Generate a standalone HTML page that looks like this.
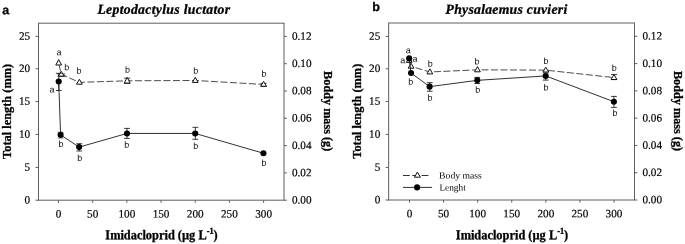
<!DOCTYPE html>
<html><head><meta charset="utf-8"><title>Figure</title>
<style>
html,body{margin:0;padding:0;background:#fff}
svg{display:block}
.t{font-family:"Liberation Serif",serif;font-size:11.2px;fill:#000;stroke:#000;stroke-width:0.18px}
.s{font-family:"Liberation Sans",sans-serif;font-size:9px;fill:#111}
.ti{font-family:"Liberation Serif",serif;font-size:13.7px;font-weight:bold;font-style:italic;fill:#000;stroke:#000;stroke-width:0.3px}
.al{font-family:"Liberation Serif",serif;font-size:13.4px;font-weight:bold;fill:#000;stroke:#000;stroke-width:0.3px}
.pl{font-family:"Liberation Sans",sans-serif;font-size:12.5px;font-weight:bold;fill:#000;stroke:#000;stroke-width:0.25px}
.lg{font-family:"Liberation Serif",serif;font-size:9.3px;fill:#000}
</style></head><body>
<svg width="685" height="244" viewBox="0 0 685 244">
<rect width="685" height="244" fill="#fff"/>
<path d="M38 23.2H284.5M38 200.2H284.5M38.5 23.2V200.2M284 23.2V200.2" stroke="#5e5e5e" stroke-width="1" fill="none"/>
<text transform="translate(30.15 203.5) rotate(0.05)" class="t" text-anchor="end">0</text>
<text transform="translate(30.15 170.72) rotate(0.05)" class="t" text-anchor="end">5</text>
<text transform="translate(30.15 137.75) rotate(0.05)" class="t" text-anchor="end">10</text>
<text transform="translate(30.15 104.75) rotate(0.05)" class="t" text-anchor="end">15</text>
<text transform="translate(30.15 72.1) rotate(0.05)" class="t" text-anchor="end">20</text>
<text transform="translate(30.15 39.7) rotate(0.05)" class="t" text-anchor="end">25</text>
<text transform="translate(291.95 203.5) rotate(0.05)" class="t">0.00</text>
<text transform="translate(291.95 176.2) rotate(0.05)" class="t">0.02</text>
<text transform="translate(291.95 148.9) rotate(0.05)" class="t">0.04</text>
<text transform="translate(291.95 121.6) rotate(0.05)" class="t">0.06</text>
<text transform="translate(291.95 94.3) rotate(0.05)" class="t">0.08</text>
<text transform="translate(291.95 67) rotate(0.05)" class="t">0.10</text>
<text transform="translate(291.95 39.7) rotate(0.05)" class="t">0.12</text>
<text transform="translate(58.5 217.5) rotate(0.05)" class="t" text-anchor="middle">0</text>
<text transform="translate(92.68 217.5) rotate(0.05)" class="t" text-anchor="middle">50</text>
<text transform="translate(126.86 217.5) rotate(0.05)" class="t" text-anchor="middle">100</text>
<text transform="translate(161.04 217.5) rotate(0.05)" class="t" text-anchor="middle">150</text>
<text transform="translate(195.22 217.5) rotate(0.05)" class="t" text-anchor="middle">200</text>
<text transform="translate(229.4 217.5) rotate(0.05)" class="t" text-anchor="middle">250</text>
<text transform="translate(263.58 217.5) rotate(0.05)" class="t" text-anchor="middle">300</text>
<path d="M35.5 200.2H38.5M35.5 167.42H38.5M35.5 134.45H38.5M35.5 101.45H38.5M35.5 68.8H38.5M35.5 36.4H38.5M284 200.2H286.9M284 172.9H286.9M284 145.6H286.9M284 118.3H286.9M284 91H286.9M284 63.7H286.9M284 36.4H286.9M58.5 200.2V202.8M92.68 200.2V202.8M126.86 200.2V202.8M161.04 200.2V202.8M195.22 200.2V202.8M229.4 200.2V202.8M263.58 200.2V202.8" stroke="#5e5e5e" stroke-width="1" fill="none"/>
<text transform="translate(97.4 13.7) rotate(0.05)" class="ti" textLength="132.7" lengthAdjust="spacing">Leptodactylus luctator</text>
<text transform="translate(2.2 14.2) rotate(0.05)" class="pl">a</text>
<text transform="translate(10.95 111.4) rotate(-90)" class="al" text-anchor="middle" textLength="95" lengthAdjust="spacingAndGlyphs">Total length (mm)</text>
<text transform="translate(324.4 111.2) rotate(90)" class="al" text-anchor="middle" textLength="80.2" lengthAdjust="spacingAndGlyphs">Boddy mass (g)</text>
<text transform="translate(161.5 239.2) rotate(0.05)" class="al" text-anchor="middle" textLength="112.4" lengthAdjust="spacingAndGlyphs">Imidacloprid (µg L<tspan dy="-5.6" font-size="9">-1</tspan><tspan dy="5.6">)</tspan></text>
<polyline points="58.7,62.9 61.2,74.3 79.4,82.35 127.2,80.8 195.25,80.48 263.6,84.45" fill="none" stroke="#222" stroke-width="0.82" stroke-dasharray="6.97 2.54" stroke-dashoffset="7.95"/>
<path d="M127.2 78.2V83.3M124.1 78.2H130.3M124.1 83.3H130.3" fill="none" stroke="#1a1a1a" stroke-width="0.85"/>
<path d="M61.4 74V76.2M57.5 74H65.3M57.5 76.2H65.3" fill="none" stroke="#1a1a1a" stroke-width="0.85"/>
<path d="M263.6 83.4V86.4M260.6 83.4H266.6M260.6 86.4H266.6" fill="none" stroke="#1a1a1a" stroke-width="0.85"/>
<path d="M58.7 59.6L61.6 65L55.8 65Z" fill="#fff" stroke="#111" stroke-width="1.0" stroke-linejoin="miter"/>
<path d="M61.2 71.3L64.1 76.1L58.3 76.1Z" fill="#fff" stroke="#111" stroke-width="1.0" stroke-linejoin="miter"/>
<path d="M79.4 79.3L82.3 84.2L76.5 84.2Z" fill="#fff" stroke="#111" stroke-width="1.0" stroke-linejoin="miter"/>
<path d="M127.2 77.3L130.1 83.1L124.3 83.1Z" fill="#fff" stroke="#111" stroke-width="1.0" stroke-linejoin="miter"/>
<path d="M195.25 77.3L198.15 82.45L192.35 82.45Z" fill="#fff" stroke="#111" stroke-width="1.0" stroke-linejoin="miter"/>
<path d="M263.6 81.4L266.5 86.3L260.7 86.3Z" fill="#fff" stroke="#111" stroke-width="1.0" stroke-linejoin="miter"/>
<polyline points="58.7,81.5 60.6,134.9 79.15,147.1 127,133.45 195.2,133.45 263.45,153.25" fill="none" stroke="#1a1a1a" stroke-width="0.9"/>
<path d="M58.8 73.3V90.5M55.9 73.3H61.7M55.9 90.5H61.7" fill="none" stroke="#1a1a1a" stroke-width="0.85"/>
<path d="M60.6 132.2V138.25M57.7 132.2H63.5M57.7 138.25H63.5" fill="none" stroke="#555" stroke-width="0.6"/>
<path d="M79.25 143.7V151M76.35 143.7H82.15M76.35 151H82.15" fill="none" stroke="#1a1a1a" stroke-width="0.85"/>
<path d="M127 128.4V138.4M124.1 128.4H129.9M124.1 138.4H129.9" fill="none" stroke="#1a1a1a" stroke-width="0.85"/>
<path d="M195.35 127.3V139.3M192.45 127.3H198.25M192.45 139.3H198.25" fill="none" stroke="#1a1a1a" stroke-width="0.85"/>
<circle cx="58.7" cy="81.5" r="3.05" fill="#000"/>
<circle cx="60.6" cy="134.9" r="3.05" fill="#000"/>
<circle cx="79.15" cy="147.1" r="3.05" fill="#000"/>
<circle cx="127" cy="133.45" r="3.05" fill="#000"/>
<circle cx="195.2" cy="133.45" r="3.05" fill="#000"/>
<circle cx="263.45" cy="153.25" r="3.05" fill="#000"/>
<text transform="translate(58.95 55.2) rotate(0.05)" class="s" text-anchor="middle">a</text>
<text transform="translate(66.8 70.15) rotate(0.05)" class="s" text-anchor="middle">b</text>
<text transform="translate(79.1 73.7) rotate(0.05)" class="s" text-anchor="middle">b</text>
<text transform="translate(127.6 72.85) rotate(0.05)" class="s" text-anchor="middle">b</text>
<text transform="translate(195.75 73.7) rotate(0.05)" class="s" text-anchor="middle">b</text>
<text transform="translate(263.9 76.8) rotate(0.05)" class="s" text-anchor="middle">b</text>
<text transform="translate(51.95 92.5) rotate(0.05)" class="s" text-anchor="middle">a</text>
<text transform="translate(61.05 147.1) rotate(0.05)" class="s" text-anchor="middle">b</text>
<text transform="translate(79.8 161.1) rotate(0.05)" class="s" text-anchor="middle">b</text>
<text transform="translate(126.85 147.8) rotate(0.05)" class="s" text-anchor="middle">b</text>
<text transform="translate(195.65 149) rotate(0.05)" class="s" text-anchor="middle">b</text>
<text transform="translate(263.9 166.1) rotate(0.05)" class="s" text-anchor="middle">b</text>
<path d="M388.15 23H635M388.15 200H635M388.65 23V200M634.5 23V200" stroke="#5e5e5e" stroke-width="1" fill="none"/>
<text transform="translate(380.3 203.3) rotate(0.05)" class="t" text-anchor="end">0</text>
<text transform="translate(380.3 170.72) rotate(0.05)" class="t" text-anchor="end">5</text>
<text transform="translate(380.3 137.75) rotate(0.05)" class="t" text-anchor="end">10</text>
<text transform="translate(380.3 104.75) rotate(0.05)" class="t" text-anchor="end">15</text>
<text transform="translate(380.3 72.1) rotate(0.05)" class="t" text-anchor="end">20</text>
<text transform="translate(380.3 39.7) rotate(0.05)" class="t" text-anchor="end">25</text>
<text transform="translate(642.45 203.3) rotate(0.05)" class="t">0.00</text>
<text transform="translate(642.45 176.02) rotate(0.05)" class="t">0.02</text>
<text transform="translate(642.45 148.73) rotate(0.05)" class="t">0.04</text>
<text transform="translate(642.45 121.45) rotate(0.05)" class="t">0.06</text>
<text transform="translate(642.45 94.17) rotate(0.05)" class="t">0.08</text>
<text transform="translate(642.45 66.88) rotate(0.05)" class="t">0.10</text>
<text transform="translate(642.45 39.6) rotate(0.05)" class="t">0.12</text>
<text transform="translate(409.5 217.3) rotate(0.05)" class="t" text-anchor="middle">0</text>
<text transform="translate(443.58 217.3) rotate(0.05)" class="t" text-anchor="middle">50</text>
<text transform="translate(477.67 217.3) rotate(0.05)" class="t" text-anchor="middle">100</text>
<text transform="translate(511.75 217.3) rotate(0.05)" class="t" text-anchor="middle">150</text>
<text transform="translate(545.84 217.3) rotate(0.05)" class="t" text-anchor="middle">200</text>
<text transform="translate(579.92 217.3) rotate(0.05)" class="t" text-anchor="middle">250</text>
<text transform="translate(614.01 217.3) rotate(0.05)" class="t" text-anchor="middle">300</text>
<path d="M385.65 200H388.65M385.65 167.42H388.65M385.65 134.45H388.65M385.65 101.45H388.65M385.65 68.8H388.65M385.65 36.4H388.65M634.5 200H637.4M634.5 172.72H637.4M634.5 145.43H637.4M634.5 118.15H637.4M634.5 90.87H637.4M634.5 63.58H637.4M634.5 36.3H637.4M409.5 200V202.6M443.58 200V202.6M477.67 200V202.6M511.75 200V202.6M545.84 200V202.6M579.92 200V202.6M614.01 200V202.6" stroke="#5e5e5e" stroke-width="1" fill="none"/>
<text transform="translate(445.6 13.7) rotate(0.05)" class="ti" textLength="121.6" lengthAdjust="spacing">Physalaemus cuvieri</text>
<text transform="translate(372.2 11.1) rotate(0.05)" class="pl">b</text>
<text transform="translate(360.7 111.2) rotate(-90)" class="al" text-anchor="middle" textLength="95" lengthAdjust="spacingAndGlyphs">Total length (mm)</text>
<text transform="translate(674.3 111) rotate(90)" class="al" text-anchor="middle" textLength="80.2" lengthAdjust="spacingAndGlyphs">Boddy mass (g)</text>
<text transform="translate(512 239.2) rotate(0.05)" class="al" text-anchor="middle" textLength="112.4" lengthAdjust="spacingAndGlyphs">Imidacloprid (µg L<tspan dy="-5.6" font-size="9">-1</tspan><tspan dy="5.6">)</tspan></text>
<polyline points="409.2,60.55 411.1,66.35 429.85,72 477.45,69.8 545.8,70.15 614,77.6" fill="none" stroke="#222" stroke-width="0.82" stroke-dasharray="6.97 2.54" stroke-dashoffset="8.25"/>
<path d="M614 74.45V79.6M611 74.45H617M611 79.6H617" fill="none" stroke="#1a1a1a" stroke-width="0.85"/>
<path d="M409.2 57.5L412.1 62.4L406.3 62.4Z" fill="#fff" stroke="#111" stroke-width="1.0" stroke-linejoin="miter"/>
<path d="M411.1 63.3L414 68.2L408.2 68.2Z" fill="#fff" stroke="#111" stroke-width="1.0" stroke-linejoin="miter"/>
<path d="M429.85 68.9L432.75 73.9L426.95 73.9Z" fill="#fff" stroke="#111" stroke-width="1.0" stroke-linejoin="miter"/>
<path d="M477.45 66.6L480.35 71.8L474.55 71.8Z" fill="#fff" stroke="#111" stroke-width="1.0" stroke-linejoin="miter"/>
<path d="M545.8 67.1L548.7 72L542.9 72Z" fill="#fff" stroke="#111" stroke-width="1.0" stroke-linejoin="miter"/>
<path d="M614 74.5L616.9 79.5L611.1 79.5Z" fill="#fff" stroke="#111" stroke-width="1.0" stroke-linejoin="miter"/>
<polyline points="409.2,58.4 411.05,73 429.6,86.65 477.25,80.35 545.7,75.95 613.9,101.7" fill="none" stroke="#1a1a1a" stroke-width="0.9"/>
<path d="M429.75 82.7V91.25M426.85 82.7H432.65M426.85 91.25H432.65" fill="none" stroke="#1a1a1a" stroke-width="0.85"/>
<path d="M477.25 77.4V83.5M474.35 77.4H480.15M474.35 83.5H480.15" fill="none" stroke="#1a1a1a" stroke-width="0.85"/>
<path d="M545.7 72.9V80.1M542.8 72.9H548.6M542.8 80.1H548.6" fill="none" stroke="#1a1a1a" stroke-width="0.85"/>
<path d="M613.95 96.4V107.4M611.05 96.4H616.85M611.05 107.4H616.85" fill="none" stroke="#1a1a1a" stroke-width="0.85"/>
<circle cx="409.2" cy="58.4" r="3.05" fill="#000"/>
<circle cx="411.05" cy="73" r="3.05" fill="#000"/>
<circle cx="429.6" cy="86.65" r="3.05" fill="#000"/>
<circle cx="477.25" cy="80.35" r="3.05" fill="#000"/>
<circle cx="545.7" cy="75.95" r="3.05" fill="#000"/>
<circle cx="613.9" cy="101.7" r="3.05" fill="#000"/>
<text transform="translate(408.2 53.3) rotate(0.05)" class="s" text-anchor="middle">a</text>
<text transform="translate(402.8 63.2) rotate(0.05)" class="s" text-anchor="middle">a</text>
<text transform="translate(415.1 61.8) rotate(0.05)" class="s" text-anchor="middle">a</text>
<text transform="translate(430.3 66.8) rotate(0.05)" class="s" text-anchor="middle">b</text>
<text transform="translate(476.95 64.5) rotate(0.05)" class="s" text-anchor="middle">b</text>
<text transform="translate(546.1 64) rotate(0.05)" class="s" text-anchor="middle">b</text>
<text transform="translate(614.2 71) rotate(0.05)" class="s" text-anchor="middle">b</text>
<text transform="translate(410.8 84.8) rotate(0.05)" class="s" text-anchor="middle">b</text>
<text transform="translate(429.9 100.65) rotate(0.05)" class="s" text-anchor="middle">b</text>
<text transform="translate(477.65 92.7) rotate(0.05)" class="s" text-anchor="middle">b</text>
<text transform="translate(546.1 90.45) rotate(0.05)" class="s" text-anchor="middle">b</text>
<text transform="translate(614.9 115.9) rotate(0.05)" class="s" text-anchor="middle">b</text>
<path d="M403 175.5H429.6" stroke="#1a1a1a" stroke-width="0.9" stroke-dasharray="6.8 2.5" fill="none"/>
<path d="M417.4 172.1L420.4 177.2L414.4 177.2Z" fill="#fff" stroke="#111" stroke-width="1.0" stroke-linejoin="miter"/>
<path d="M403 187.4H432" stroke="#1a1a1a" stroke-width="0.9" fill="none"/>
<circle cx="417.1" cy="187.4" r="3.05" fill="#000"/>
<text transform="translate(439.1 178.5) rotate(0.05)" class="lg" textLength="42.7" lengthAdjust="spacingAndGlyphs">Body mass</text>
<text transform="translate(439.4 190.4) rotate(0.05)" class="lg">Lenght</text>
</svg></body></html>
